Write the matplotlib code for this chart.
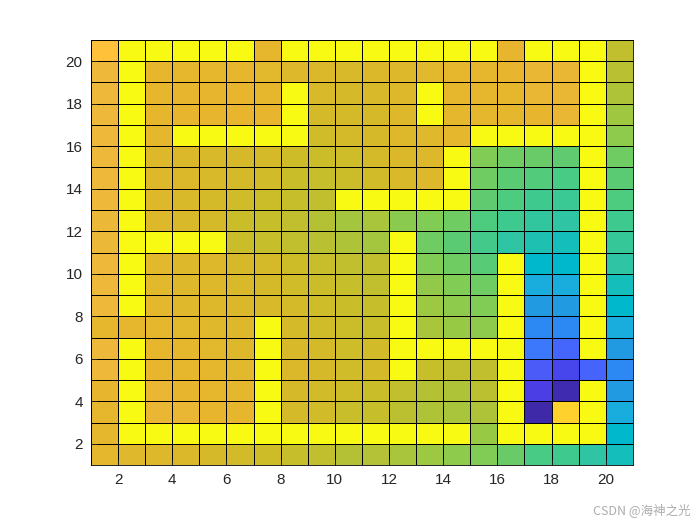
import numpy as np
import matplotlib
matplotlib.use("Agg")
import matplotlib.pyplot as plt
from matplotlib.colors import LinearSegmentedColormap

# cell values, rows listed from top (y=20) to bottom (y=1), columns x=1..20
row20 = [94, 100, 100, 100, 100, 100, 89, 100, 100, 100, 100, 100, 100, 100, 100, 89.5, 100, 100, 100, 77.5]
row19 = [92, 100, 89, 89, 89, 89, 87, 85.5, 84, 83.5, 84, 85.5, 87, 89, 89, 90, 91, 91, 100, 76]
row18 = [92, 100, 89, 90, 90, 89.5, 89, 100, 83.5, 83, 83.5, 85.5, 100, 89, 89, 89, 91, 91, 100, 74.5]
row17 = [92, 100, 89, 90, 90, 90, 90, 100, 82.5, 82.5, 83, 85, 100, 88, 88, 88, 90, 91, 100, 72.5]
row16 = [92, 100, 88, 100, 100, 100, 100, 100, 81.5, 82.5, 83, 85, 86, 88.5, 100, 100, 100, 100, 100, 70.5]
row15 = [92, 100, 85.5, 84, 83.5, 83, 82.5, 80.5, 80, 81, 82.5, 84, 85, 100, 69, 66, 65, 63, 100, 66]
row14 = [92, 100, 85.5, 84, 83.5, 82.5, 82, 79.5, 78.5, 80, 82, 83.5, 85, 100, 66, 62, 60, 58, 100, 62]
row13 = [92, 100, 85, 83.5, 82.5, 81.5, 80, 78.5, 77.5, 100, 100, 100, 100, 100, 63, 59, 56, 55, 100, 59]
row12 = [91.5, 100, 85, 83.5, 82.5, 79.5, 78.5, 77.5, 75.5, 73, 73.5, 70, 69, 66, 59, 56, 53, 52, 100, 56]
row11 = [91.5, 100, 100, 100, 100, 79.5, 78.5, 77.5, 76, 74.5, 73, 100, 66, 62, 57, 52, 49, 47, 100, 54]
row10 = [92, 100, 87, 85.5, 85, 83, 82.5, 80.5, 79, 77.5, 77.5, 100, 69, 66, 61, 100, 42, 42, 100, 52]
row9 = [92, 100, 87, 85.5, 85, 83.5, 82.5, 81.5, 80, 78.5, 77.5, 100, 71, 69, 66, 100, 37, 37, 100, 47]
row8 = [92, 100, 88, 86, 85.5, 84, 83.5, 82.5, 81, 79.5, 78.5, 100, 72, 70.5, 69, 100, 32, 32, 100, 42]
row7 = [89, 89, 88, 87, 86, 85, 100, 82.5, 81.5, 80, 79, 100, 73.5, 71.5, 70.5, 100, 27, 27, 100, 37]
row6 = [92, 100, 89, 88, 87, 85.5, 100, 83.5, 82.5, 81, 82, 100, 100, 100, 100, 100, 22, 18, 100, 32]
row5 = [92, 100, 90, 89, 88, 87, 100, 84, 83, 81.5, 82.5, 100, 78.5, 77.5, 77.5, 100, 15, 12, 17, 27]
row4 = [90, 100, 91, 90, 89, 88, 100, 83, 82, 80.5, 79.5, 77.5, 75.5, 74.5, 76.5, 100, 9, 1, 100, 32]
row3 = [89, 100, 91, 91, 90, 89, 100, 82.5, 82, 79, 78.5, 76.5, 74.5, 73.5, 74.5, 100, 0, 96, 100, 37]
row2 = [88, 100, 100, 100, 100, 100, 100, 100, 100, 100, 100, 100, 100, 100, 71.5, 100, 100, 100, 100, 42]
row1 = [88, 86, 85, 84, 83, 82, 80.5, 78.5, 77.5, 75.5, 75, 73.5, 72, 70.5, 69, 65, 58, 56, 52, 47]

rows_top_down = [row20, row19, row18, row17, row16, row15, row14, row13, row12, row11,
                 row10, row9, row8, row7, row6, row5, row4, row3, row2, row1]
C = np.array(rows_top_down[::-1])

xticks = [2, 4, 6, 8, 10, 12, 14, 16, 18, 20]
yticks = [2, 4, 6, 8, 10, 12, 14, 16, 18, 20]

# parula-like colormap
anchors = [(0, "#3E29A8"), (9, "#4A3EE4"), (12, "#4646EC"), (15, "#4A5CF8"), (18, "#4466FC"),
           (22, "#3C78FC"), (27, "#2C88F2"), (32, "#229AE2"), (37, "#18ADDC"), (42, "#00B8CC"),
           (47, "#14BEBA"), (52, "#2EC4A4"), (56, "#3ECA8F"), (60, "#52CC7A"), (63, "#60CA70"),
           (66, "#6ECC62"), (69, "#80CC56"), (72, "#9CC842"), (75, "#B2C236"), (78, "#C4BE2C"),
           (81, "#CEBC28"), (84, "#DAB82A"), (87, "#E2B82C"), (90, "#E8B62E"), (92, "#ECB83A"),
           (94, "#FEC03A"), (96, "#FFD02E"), (100, "#F8FA14")]
cmap = LinearSegmentedColormap.from_list("parula_like", [(v / 100, c) for v, c in anchors], N=512)

plt.rcParams["font.family"] = ["Liberation Sans", "DejaVu Sans"]

fig = plt.figure(figsize=(7, 5.25), dpi=100)
ax = fig.add_axes([0.13, 0.114, 0.774, 0.81])

x = np.arange(1, 22)
y = np.arange(1, 22)
ax.pcolormesh(x, y, C, cmap=cmap, vmin=0, vmax=100, edgecolors="black", linewidth=0.6)

ax.set_xlim(1, 21)
ax.set_ylim(1, 21)
ax.set_xticks(xticks)
ax.set_yticks(yticks)
ax.tick_params(direction="in", length=4, width=0.6, colors="#262626", labelsize=11,
               top=False, right=False, pad=6)
for s in ax.spines.values():
    s.set_linewidth(0.6)
    s.set_color("black")

fig.text(0.986, 0.015, "CSDN @海神之光", ha="right", va="bottom", fontsize=9, color="#ADADAD",
         family=["Noto Sans CJK SC", "DejaVu Sans"])

fig.savefig("out.png", dpi=100)
